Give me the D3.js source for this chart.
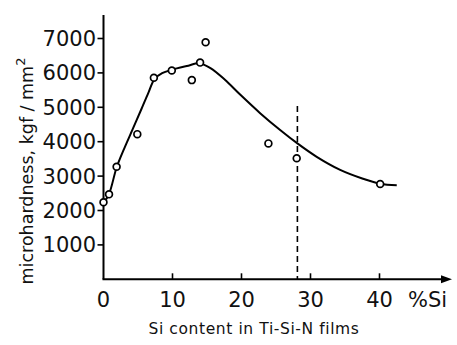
<!DOCTYPE html>
<html>
<head>
<meta charset="utf-8">
<script src="https://cdn.jsdelivr.net/npm/d3@7"></script>
<style>
  body { margin: 0; background: #fff; }
  text { font-family: "DejaVu Sans", sans-serif; fill: #111; }
</style>
</head>
<body>
<div id="chart"></div>
<script>
// measured points (Si %, microhardness kgf/mm2)
const siPct = [0, 0.8, 1.9, 4.9, 7.3, 9.9, 12.8, 14.0, 14.8, 23.9, 28.0, 40.1];
const hardness = [2240, 2470, 3270, 4220, 5860, 6070, 5790, 6300, 6890, 3950, 3520, 2770];

// hand-drawn trend curve
const curveSi = [0, 0.8, 1.9, 3.0, 4.2, 5.5, 6.5, 7.4, 8.5, 9.9, 12.3, 13.8, 15.5, 17.6, 19.8, 22.7, 25.6, 28.1, 30.9, 34.3, 37.5, 40.1, 42.5];
const curveHv = [2220, 2480, 3250, 3800, 4350, 4950, 5420, 5820, 5990, 6090, 6210, 6280, 6140, 5800, 5370, 4830, 4340, 3950, 3560, 3180, 2930, 2780, 2735];

const xTicks = [0, 10, 20, 30, 40];
const yTicks = [1000, 2000, 3000, 4000, 5000, 6000, 7000];
const dashAt = 28.1, dashTop = 5040;

const W = 457, H = 345;
const svg = d3.select('#chart').append('svg')
    .attr('width', W).attr('height', H);

const x = d3.scaleLinear().domain([0, 40]).range([103.5, 379.5]);
const y = d3.scaleLinear().domain([0, 7000]).range([279.3, 38.5]);

// axes
svg.append('line')
    .attr('x1', x(0)).attr('x2', x(0))
    .attr('y1', 15).attr('y2', y(0))
    .attr('stroke', '#000').attr('stroke-width', 2);
svg.append('line')
    .attr('x1', x(0) - 1).attr('x2', 445)
    .attr('y1', y(0)).attr('y2', y(0))
    .attr('stroke', '#000').attr('stroke-width', 2);
svg.append('path')
    .attr('d', `M441,${y(0) - 4}L452,${y(0)}L441,${y(0) + 4}Z`)
    .attr('fill', '#000');

// y ticks
const yg = svg.append('g');
yg.selectAll('line').data(yTicks).join('line')
    .attr('x1', x(0) - 6).attr('x2', x(0))
    .attr('y1', d => y(d)).attr('y2', d => y(d))
    .attr('stroke', '#000').attr('stroke-width', 1.6);
yg.selectAll('text').data(yTicks).join('text')
    .attr('x', 96).attr('y', d => y(d) + 7.5)
    .attr('text-anchor', 'end')
    .attr('font-size', 21)
    .text(d => d);

// x ticks
const xg = svg.append('g');
xg.selectAll('line').data(xTicks.filter(d => d > 0)).join('line')
    .attr('x1', d => x(d)).attr('x2', d => x(d))
    .attr('y1', y(0) - 6).attr('y2', y(0))
    .attr('stroke', '#000').attr('stroke-width', 1.6);
xg.selectAll('text').data(xTicks).join('text')
    .attr('x', d => x(d)).attr('y', 307)
    .attr('text-anchor', 'middle')
    .attr('font-size', 21)
    .text(d => d);
svg.append('text')
    .attr('x', 408).attr('y', 307)
    .attr('font-size', 21)
    .text('%Si');

// axis titles
svg.append('text')
    .attr('x', 254).attr('y', 334)
    .attr('text-anchor', 'middle')
    .attr('font-size', 15.5)
    .attr('letter-spacing', 0.6)
    .text('Si content in Ti-Si-N films');

const yt = svg.append('text')
    .attr('transform', 'translate(33,171) rotate(-90)')
    .attr('text-anchor', 'middle')
    .attr('font-size', 17.5);
yt.append('tspan').text('microhardness, kgf / mm');
yt.append('tspan').attr('dy', -8).attr('font-size', 13).text('2');

// dashed marker line
svg.append('line')
    .attr('x1', x(dashAt)).attr('x2', x(dashAt))
    .attr('y1', y(dashTop)).attr('y2', y(0))
    .attr('stroke', '#000').attr('stroke-width', 1.6)
    .attr('stroke-dasharray', '6,4');

// trend curve
const line = d3.line()
    .x(d => x(d[0])).y(d => y(d[1]))
    .curve(d3.curveCatmullRom.alpha(0.5));
svg.append('path')
    .datum(d3.zip(curveSi, curveHv))
    .attr('d', line)
    .attr('fill', 'none')
    .attr('stroke', '#000')
    .attr('stroke-width', 2);

// data markers
svg.append('g').selectAll('circle')
    .data(d3.zip(siPct, hardness))
    .join('circle')
    .attr('cx', d => x(d[0])).attr('cy', d => y(d[1]))
    .attr('r', 3.4)
    .attr('fill', '#fff')
    .attr('stroke', '#000')
    .attr('stroke-width', 1.7);
</script>
</body>
</html>
